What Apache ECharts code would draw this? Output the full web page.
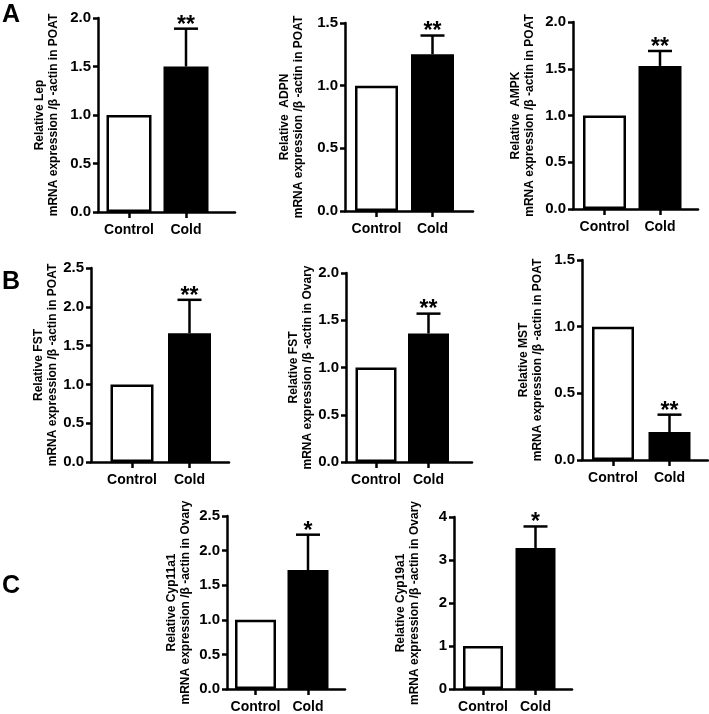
<!DOCTYPE html>
<html>
<head>
<meta charset="utf-8">
<script src="https://cdn.jsdelivr.net/npm/echarts@6/dist/echarts.min.js"></script>
<style>
html,body{margin:0;padding:0;background:#fff;}
#chart{width:709px;height:714px;}
</style>
</head>
<body>
<div id="chart"></div>
<script>
// ---- data ----
const categories = ['Control', 'Cold'];
const barColors = ['#ffffff', '#000000'];

const lepMean = [1.0, 1.50],  lepErr = [0, 0.39];
const adpnMean = [1.0, 1.25], adpnErr = [0, 0.15];
const ampkMean = [1.0, 1.53], ampkErr = [0, 0.16];
const fstPoatMean = [1.0, 1.66], fstPoatErr = [0, 0.43];
const fstOvaryMean = [1.0, 1.36], fstOvaryErr = [0, 0.21];
const mstMean = [1.0, 0.21], mstErr = [0, 0.13];
const cyp11Mean = [1.0, 1.72], cyp11Err = [0, 0.51];
const cyp19Mean = [1.0, 3.28], cyp19Err = [0, 0.50];

const stars = ['**', '**', '**', '**', '**', '**', '*', '*'];
const yTitles = [
  'Relative Lep\nmRNA expression /β -actin in POAT',
  'Relative  ADPN\nmRNA expression /β -actin in POAT',
  'Relative  AMPK\nmRNA expression /β -actin in POAT',
  'Relative FST\nmRNA expression /β -actin in POAT',
  'Relative FST\nmRNA expression /β -actin in Ovary',
  'Relative MST\nmRNA expression /β -actin in POAT',
  'Relative Cyp11a1\nmRNA expression /β -actin in Ovary',
  'Relative Cyp19a1\nmRNA expression /β -actin in Ovary'
];
const yMaxes = [2, 1.5, 2, 2.5, 2, 1.5, 2.5, 4];
const ySteps = [0.5, 0.5, 0.5, 0.5, 0.5, 0.5, 0.5, 1];
const yDigits = [1, 1, 1, 1, 1, 1, 1, 0];
const means = [lepMean, adpnMean, ampkMean, fstPoatMean, fstOvaryMean, mstMean, cyp11Mean, cyp19Mean];
const errs = [lepErr, adpnErr, ampkErr, fstPoatErr, fstOvaryErr, mstErr, cyp11Err, cyp19Err];

// ---- layout (pixels) ----
const layout = [
  {left: 98,  top: 18,  zero: 212, end: 235, c0: 31,   c1: 88,   bw: 45, gap: 37},
  {left: 345, top: 23,  zero: 211, end: 473, c0: 31.5, c1: 87.5, bw: 43, gap: 39},
  {left: 573, top: 22,  zero: 209, end: 698, c0: 31.5, c1: 87,   bw: 43, gap: 36},
  {left: 91,  top: 268, zero: 462, end: 229, c0: 41,   c1: 98.5, bw: 43, gap: 25},
  {left: 346, top: 273, zero: 462, end: 472, c0: 30,   c1: 82.5, bw: 41, gap: 31},
  {left: 582, top: 260, zero: 460, end: 708, c0: 31,   c1: 87.5, bw: 42, gap: 37},
  {left: 227, top: 516, zero: 692, end: 345, c0: 28.5, c1: 81,   bw: 41, gap: 34},
  {left: 454, top: 517, zero: 692, end: 572, c0: 29,   c1: 81.5, bw: 40, gap: 32}
];

const FONT = '"Liberation Sans", Arial, sans-serif';
const grids = [], xAxes = [], yAxes = [], series = [];

layout.forEach((L, k) => {
  const width = L.end - L.left;
  const unit = L.c1 - L.c0;
  grids.push({left: L.left, top: L.top, width: width, height: L.zero - L.top});
  xAxes.push({
    gridIndex: k, type: 'value',
    min: -L.c0 / unit, max: (width - L.c0) / unit,
    axisLine: {show: true, onZero: false, lineStyle: {color: '#000', width: 2.5}},
    axisTick: {show: true, customValues: [0, 1], length: 6, lineStyle: {color: '#000', width: 2.5}},
    axisLabel: {customValues: [0, 1], formatter: v => categories[Math.round(v)],
      color: '#000', fontWeight: 'bold', fontSize: 14, fontFamily: FONT, margin: 11},
    splitLine: {show: false}
  });
  yAxes.push({
    gridIndex: k, type: 'value', min: 0, max: yMaxes[k], interval: ySteps[k],
    name: yTitles[k], nameLocation: 'middle', nameRotate: 90, nameGap: L.gap,
    nameTextStyle: {color: '#000', fontWeight: 'bold', fontSize: 12, fontFamily: FONT, lineHeight: 14},
    axisLine: {show: true, onZero: false, lineStyle: {color: '#000', width: 2.5}},
    axisTick: {show: true, length: 5, lineStyle: {color: '#000', width: 2.5}},
    axisLabel: {formatter: v => v.toFixed(yDigits[k]), color: '#000', fontWeight: 'bold',
      fontSize: 15, fontFamily: FONT, margin: 7},
    splitLine: {show: false}
  });
  series.push({
    type: 'bar', xAxisIndex: k, yAxisIndex: k, barWidth: L.bw,
    data: categories.map((c, i) => ({value: [i, means[k][i]],
      itemStyle: {color: barColors[i], borderColor: '#000', borderWidth: 2.5}})),
    silent: true
  });
  series.push({
    type: 'custom', xAxisIndex: k, yAxisIndex: k, z: 5, silent: true,
    data: categories.map((c, i) => [i, means[k][i], errs[k][i]]),
    renderItem: function (params, api) {
      const x = api.value(0), m = api.value(1), e = api.value(2);
      if (!(e > 0)) return null;
      const p0 = api.coord([x, m]);
      const p1 = api.coord([x, m + e]);
      return {
        type: 'group',
        children: [
          {type: 'line', shape: {x1: p0[0], y1: p0[1], x2: p1[0], y2: p1[1]},
            style: {stroke: '#000', lineWidth: 2.5}},
          {type: 'line', shape: {x1: p1[0] - 12, y1: p1[1], x2: p1[0] + 12, y2: p1[1]},
            style: {stroke: '#000', lineWidth: 2.5}},
          {type: 'text', x: p1[0], y: p1[1] + 8,
            style: {text: stars[k], fill: '#000', font: 'bold 23px ' + FONT,
              textAlign: 'center', textVerticalAlign: 'bottom'}}
        ]
      };
    }
  });
});

const chart = echarts.init(document.getElementById('chart'), null, {renderer: 'canvas'});
chart.setOption({
  backgroundColor: '#fff',
  animation: false,
  grid: grids, xAxis: xAxes, yAxis: yAxes, series: series,
  graphic: [
    {type: 'text', left: 2, top: 3, style: {text: 'A', fill: '#000', font: 'bold 25px ' + FONT}},
    {type: 'text', left: 2, top: 270, style: {text: 'B', fill: '#000', font: 'bold 25px ' + FONT}},
    {type: 'text', left: 2, top: 574, style: {text: 'C', fill: '#000', font: 'bold 25px ' + FONT}}
  ]
});
</script>
</body>
</html>
